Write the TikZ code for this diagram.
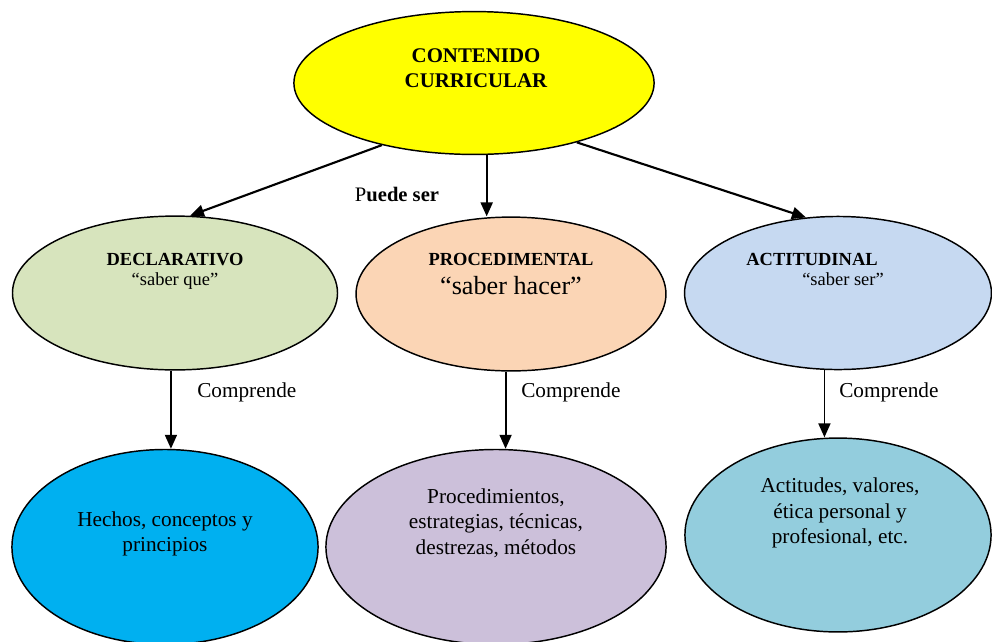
\documentclass[tikz,border=0pt]{standalone}
\usepackage{fontspec}
\setmainfont{Liberation Serif}
\usepackage{xcolor}
\usepackage{tikz}
\usetikzlibrary{
arrows.meta,
shapes.geometric
}
\definecolor{ccyellow}{HTML}{FFFF00}
\definecolor{ccolive}{HTML}{D7E4BD}
\definecolor{ccpeach}{HTML}{FBD5B5}
\definecolor{ccsky}{HTML}{C6D9F1}
\definecolor{cccyan}{HTML}{00B0F0}
\definecolor{cclilac}{HTML}{CCC0DA}
\definecolor{ccteal}{HTML}{93CDDD}

\begin{document}
\begin{tikzpicture}[
  x=0.02646cm, y=-0.02646cm,
  >={Triangle[length=10.5pt,width=9pt]},
  bubble/.style={ellipse, draw=black, line width=1.1pt, inner sep=0pt},
  link/.style={->, line width=1.6pt},
  heading/.style={font=\fontsize{13.9}{16}\selectfont\bfseries, anchor=base},
  quote/.style={font=\fontsize{13.9}{16}\selectfont, anchor=base},
  caption/.style={font=\fontsize{16}{19}\selectfont, anchor=base west,
                  inner sep=0pt},
  content/.style={font=\fontsize{16}{19.2}\selectfont, align=center}
]
\useasboundingbox (0,0) rectangle (992,641);

%% ── TOP ─────────────────────────────────────────────────────────
\node[bubble, fill=ccyellow, minimum width=9.53cm, minimum height=3.78cm]
  (contenido) at (474,83) {};
\node[font=\fontsize{15.7}{18.8}\selectfont\bfseries, anchor=base]
  (contenidoA) at (476,62) {CONTENIDO};
\node[font=\fontsize{15.7}{18.8}\selectfont\bfseries, anchor=base]
  (contenidoB) at (476,87) {CURRICULAR};

%% ── KINDS ───────────────────────────────────────────────────────
\node[bubble, fill=ccolive, minimum width=8.60cm, minimum height=4.07cm]
  (declarativo) at (175,293) {};
\node[heading] (declarativoT) at (175,265) {DECLARATIVO};
\node[quote] (declarativoQ) at (175,285) {“saber que”};

\node[bubble, fill=ccpeach, minimum width=8.20cm, minimum height=4.07cm]
  (procedimental) at (511,294) {};
\node[heading] (procedimentalT) at (511,265) {PROCEDIMENTAL};
\node[font=\fontsize{19.7}{23}\selectfont, anchor=base]
  (procedimentalQ) at (511,294) {“saber hacer”};

\node[bubble, fill=ccsky, minimum width=8.12cm, minimum height=4.05cm]
  (actitudinal) at (838,293) {};
\node[heading] (actitudinalT) at (812,265) {ACTITUDINAL};
\node[quote] (actitudinalQ) at (843,285) {“saber ser”};

%% ── CONTENTS ────────────────────────────────────────────────────
\node[bubble, fill=cccyan, minimum width=8.10cm, minimum height=5.16cm]
  (hechos) at (165,547) {};
\node[content] (hechosT) at (165,534)
  {Hechos, conceptos y\\ principios};

\node[bubble, fill=cclilac, minimum width=9.00cm, minimum height=5.16cm]
  (procedimientos) at (496,547) {};
\node[content] (procedimientosT) at (496,523)
  {Procedimientos,\\ estrategias, técnicas,\\ destrezas, métodos};

\node[bubble, fill=ccteal, minimum width=8.10cm, minimum height=5.13cm]
  (actitudes) at (838,535) {};
\node[content] (actitudesT) at (840,513)
  {Actitudes, valores,\\ ética personal y\\ profesional, etc.};

%% ── LINKS ───────────────────────────────────────────────────────
\draw[link] (contenido.214) -- (declarativo.79);
\draw[link] (contenido.-80) -- (contenido.-80 |- procedimental.north);
\draw[link] (contenido.-30) -- (actitudinal.113);
\node[font=\fontsize{15.5}{18}\selectfont, anchor=base] (puede) at (397,201)
  {P\textbf{uede ser}};

\draw[link, line width=1.4pt] (declarativo.-93) -- (declarativo.-93 |- hechos.north);
\draw[link, line width=1.4pt] (procedimental.-94) -- (procedimental.-94 |- procedimientos.north);
\draw[link, line width=1.4pt] (actitudinal.-100) -- (actitudinal.-100 |- actitudes.north);
\node[caption] (comprendeA) at (197,397) {Comprende};
\node[caption] (comprendeB) at (521,397) {Comprende};
\node[caption] (comprendeC) at (839,397) {Comprende};

\end{tikzpicture}
\end{document}
